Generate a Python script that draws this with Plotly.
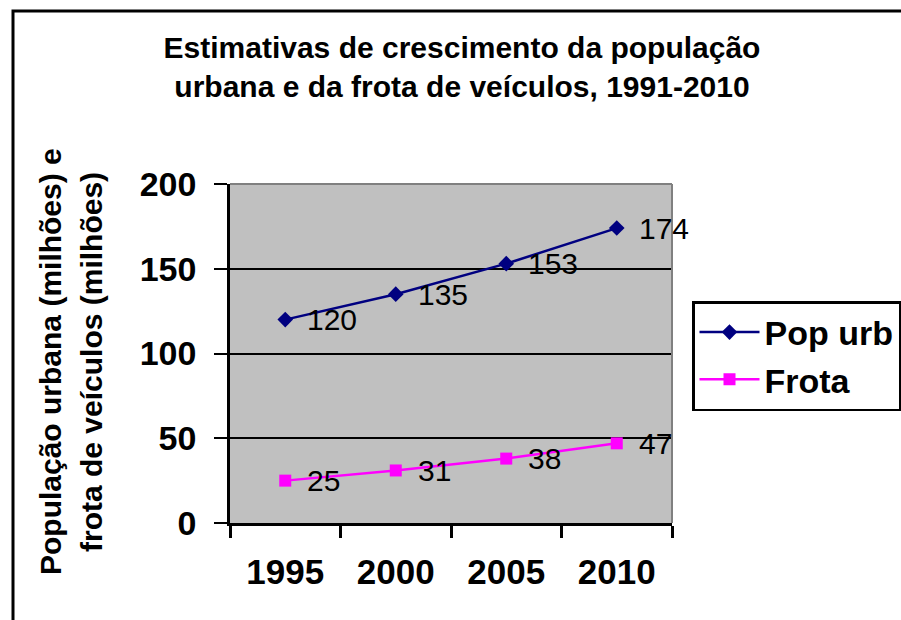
import plotly.graph_objects as go

NAVY = "#000080"
MAGENTA = "#FF00FF"
PLOT_BG = "#C0C0C0"

anos = ["1995", "2000", "2005", "2010"]
pop_urb = [120, 135, 153, 174]
frota = [25, 31, 38, 47]
yticks = [0, 50, 100, 150, 200]

W, H = 901, 620
L, R, T, B = 230, 672, 184, 523   # plot area in pixels


def px_x(p):
    return (p - L) / (R - L)


def px_y(p):
    return (B - p) / (B - T)


fig = go.Figure()
fig.add_trace(go.Scatter(x=anos, y=pop_urb, name="Pop urb", mode="lines+markers",
                         line=dict(color=NAVY, width=2.5),
                         marker=dict(symbol="diamond", size=12, color=NAVY)))
fig.add_trace(go.Scatter(x=anos, y=frota, name="Frota", mode="lines+markers",
                         line=dict(color=MAGENTA, width=2.5),
                         marker=dict(symbol="square", size=12, color=MAGENTA)))

# rótulos de dados à direita de cada ponto (x pelo índice da categoria)
for serie in (pop_urb, frota):
    for i, v in enumerate(serie):
        fig.add_annotation(x=i, y=v, text=str(v), showarrow=False,
                           xanchor="left", yanchor="middle", xshift=20,
                           font=dict(family="Arial", size=30, color="black"))

# título do eixo y em duas linhas
for txt, xp in (("População urbana (milhões) e", 50), ("frota de veículos (milhões)", 91)):
    fig.add_annotation(xref="paper", yref="paper", x=px_x(xp), y=px_y(362),
                       text=txt, textangle=-90, showarrow=False,
                       xanchor="center", yanchor="middle",
                       font=dict(family="Arial", size=30, color="black", weight="bold"))

# moldura externa do gráfico e bordas cinza da área de plotagem
fig.add_shape(type="rect", xref="paper", yref="paper",
              x0=px_x(13), x1=px_x(W + 20), y0=px_y(H + 20), y1=px_y(11),
              line=dict(color="black", width=3), layer="below")
fig.add_shape(type="line", xref="paper", yref="paper", x0=0, x1=1, y0=1, y1=1,
              line=dict(color="#808080", width=2))
fig.add_shape(type="line", xref="paper", yref="paper", x0=1, x1=1, y0=0, y1=1,
              line=dict(color="#808080", width=2))

fig.update_layout(
    width=W, height=H,
    margin=dict(l=L, r=W - R, t=T, b=H - B, autoexpand=False),
    paper_bgcolor="white", plot_bgcolor=PLOT_BG,
    title=dict(text="Estimativas de crescimento da população<br>urbana e da frota de veículos, 1991-2010",
               x=px_x(462), xref="paper", xanchor="center",
               y=1 - 58 / H, yanchor="middle",
               font=dict(family="Arial", size=30, color="black", weight="bold")),
    xaxis=dict(type="category", range=[-0.5, 3.5], tickson="boundaries",
               showgrid=False, showline=True, linecolor="black", linewidth=2.5,
               ticks="outside", ticklen=12, tickwidth=2.5, tickcolor="black",
               ticklabelstandoff=16,
               tickfont=dict(family="Arial", size=35, color="black", weight="bold")),
    yaxis=dict(range=[0, 200], tickvals=yticks, showgrid=True, gridcolor="black",
               gridwidth=1.5, zeroline=False,
               showline=True, linecolor="black", linewidth=2.5,
               ticks="outside", ticklen=13, tickwidth=2, tickcolor="black",
               ticklabelstandoff=11,
               tickfont=dict(family="Arial", size=34, color="black", weight="bold")),
    legend=dict(x=px_x(692), y=px_y(301), xanchor="left", yanchor="top",
                bgcolor="white", bordercolor="black", borderwidth=2.5,
                itemwidth=60,
                font=dict(family="Arial", size=34, color="black", weight="bold")),
    showlegend=True,
)

fig.write_html("out.html", config={"displayModeBar": False},
               post_script="document.body.style.margin='0';")
